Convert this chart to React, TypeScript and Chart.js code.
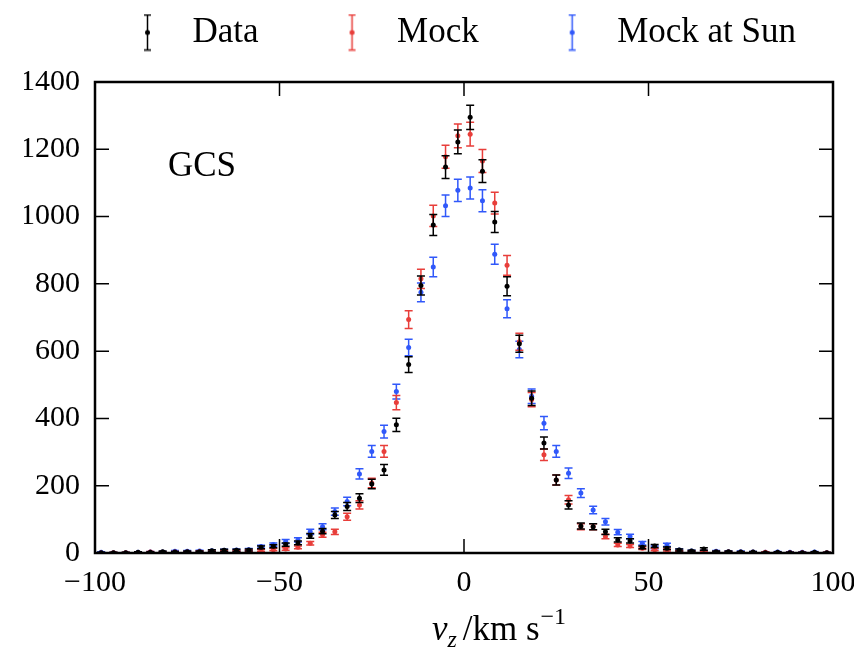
import React, { useEffect, useRef } from "react";
import { Chart, registerables } from "chart.js";

Chart.register(...registerables);

const FONT = "'Liberation Serif', 'Times New Roman', serif";

// bin centres of v_z (km/s)
const velocity = [
  -98.33, -95, -91.67, -88.33, -85, -81.67, -78.33, -75, -71.67, -68.33,
  -65, -61.67, -58.33, -55, -51.67, -48.33, -45, -41.67, -38.33, -35,
  -31.67, -28.33, -25, -21.67, -18.33, -15, -11.67, -8.33, -5, -1.67,
  1.67, 5, 8.33, 11.67, 15, 18.33, 21.67, 25, 28.33, 31.67,
  35, 38.33, 41.67, 45, 48.33, 51.67, 55, 58.33, 61.67, 65,
  68.33, 71.67, 75, 78.33, 81.67, 85, 88.33, 91.67, 95, 98.33,
];

const dataCounts = [
  1, 1, 1, 2, 2, 4, 3, 4, 4, 7,
  8, 8, 9, 17, 20, 25, 30, 51, 65, 113,
  138, 163, 205, 247, 381, 560, 795, 975, 1147, 1222,
  1295, 1135, 984, 793, 622, 460, 327, 217, 143, 80,
  78, 63, 39, 36, 17, 21, 14, 9, 6, 12,
  4, 4, 3, 3, 1, 2, 1, 1, 2, 1,
];

const mockCounts = [
  0, 1, 1, 1, 3, 2, 3, 3, 4, 4,
  5, 6, 7, 8, 10, 12, 17, 29, 54, 63,
  108, 143, 208, 302, 447, 694, 815, 1002, 1178, 1240,
  1245, 1165, 1040, 855, 628, 456, 292, 217, 158, 78,
  78, 49, 24, 21, 14, 10, 9, 5, 4, 5,
  3, 3, 2, 2, 2, 1, 1, 1, 1, 1,
];

const sunCounts = [
  2, 1, 1, 2, 3, 3, 5, 5, 6, 7,
  8, 9, 10, 19, 25, 34, 39, 63, 78, 123,
  153, 235, 302, 361, 480, 611, 775, 850, 1032, 1078,
  1085, 1047, 888, 726, 605, 466, 386, 302, 237, 178,
  128, 93, 62, 49, 29, 17, 24, 9, 6, 6,
  5, 4, 4, 3, 2, 3, 2, 2, 3, 1,
];

const seriesNames = ["Data", "Mock", "Mock at Sun"];
const seriesColors = ["#000000", "rgb(232,62,58)", "rgb(48,88,250)"];
const xTicks = [-100, -50, 0, 50, 100];
const yTicks = [0, 200, 400, 600, 800, 1000, 1200, 1400];
const panelLabel = "GCS";

function makeGlyph(color: string) {
  const c = document.createElement("canvas");
  c.width = 114;
  c.height = 38;
  const g = c.getContext("2d")!;
  const x = 86.5;
  g.strokeStyle = color;
  g.lineWidth = 1.5;
  g.beginPath();
  g.moveTo(x, 1.5);
  g.lineTo(x, 36.5);
  g.moveTo(x - 3.5, 1.5);
  g.lineTo(x + 3.5, 1.5);
  g.moveTo(x - 3.5, 36.5);
  g.lineTo(x + 3.5, 36.5);
  g.stroke();
  g.fillStyle = color;
  g.beginPath();
  g.arc(x, 19, 2.5, 0, Math.PI * 2);
  g.fill();
  return c;
}

const errorBarPlugin = {
  id: "errorBars",
  beforeDatasetDraw(chart: any, args: any) {
    const ds = chart.data.datasets[args.index];
    const xs = chart.scales.x;
    const ys = chart.scales.y;
    const ctx = chart.ctx;
    const a = chart.chartArea;
    ctx.save();
    ctx.beginPath();
    ctx.rect(a.left, a.top, a.right - a.left, a.bottom - a.top);
    ctx.clip();
    ctx.strokeStyle = ds.borderColor;
    ctx.lineWidth = 1.5;
    ds.data.forEach((p: any) => {
      const err = Math.sqrt(p.y);
      const x = xs.getPixelForValue(p.x);
      const y1 = ys.getPixelForValue(p.y - err);
      const y2 = ys.getPixelForValue(p.y + err);
      ctx.beginPath();
      ctx.moveTo(x, y1);
      ctx.lineTo(x, y2);
      ctx.moveTo(x - 4, y1);
      ctx.lineTo(x + 4, y1);
      ctx.moveTo(x - 4, y2);
      ctx.lineTo(x + 4, y2);
      ctx.stroke();
    });
    ctx.restore();
  },
};

const framePlugin = {
  id: "frame",
  afterDraw(chart: any) {
    const ctx = chart.ctx;
    const a = chart.chartArea;
    const xs = chart.scales.x;
    const ys = chart.scales.y;
    ctx.save();
    ctx.strokeStyle = "#000";
    ctx.lineWidth = 1.5;
    const tl = 14;
    ctx.beginPath();
    xTicks.forEach((v) => {
      const x = xs.getPixelForValue(v);
      ctx.moveTo(x, a.bottom);
      ctx.lineTo(x, a.bottom - tl);
      ctx.moveTo(x, a.top);
      ctx.lineTo(x, a.top + tl);
    });
    yTicks.forEach((v) => {
      const y = ys.getPixelForValue(v);
      ctx.moveTo(a.left, y);
      ctx.lineTo(a.left + tl, y);
      ctx.moveTo(a.right, y);
      ctx.lineTo(a.right - tl, y);
    });
    ctx.stroke();
    ctx.lineWidth = 2.5;
    ctx.strokeRect(a.left, a.top, a.right - a.left, a.bottom - a.top);

    // panel label
    ctx.fillStyle = "#000";
    ctx.font = `35px ${FONT}`;
    ctx.textAlign = "left";
    ctx.textBaseline = "alphabetic";
    ctx.fillText(panelLabel, a.left + 73, a.top + 94);

    // x axis title: v_z /km s^-1
    const big = `35px ${FONT}`;
    const bigIt = `italic 35px ${FONT}`;
    const smallIt = `italic 24px ${FONT}`;
    const small = `24px ${FONT}`;
    const parts = [
      { t: "v", f: bigIt, dy: 0, gap: 0 },
      { t: "z", f: smallIt, dy: 7, gap: 0 },
      { t: "/km s", f: big, dy: 0, gap: 6 },
      { t: "−1", f: small, dy: -16, gap: 1 },
    ];
    let total = 0;
    parts.forEach((p) => {
      ctx.font = p.f;
      total += ctx.measureText(p.t).width + p.gap;
    });
    let x = (a.left + a.right) / 2 + 35 - total / 2;
    const base = a.bottom + 87;
    parts.forEach((p) => {
      ctx.font = p.f;
      x += p.gap;
      ctx.fillText(p.t, x, base + p.dy);
      x += ctx.measureText(p.t).width;
    });
    ctx.restore();
  },
};

export default function App() {
  const ref = useRef<HTMLCanvasElement>(null);

  useEffect(() => {
    if (!ref.current) return;
    const glyphs = seriesColors.map((c) => makeGlyph(c));
    const series = [dataCounts, mockCounts, sunCounts];
    const chart = new Chart(ref.current, {
      type: "scatter",
      data: {
        datasets: series.map((arr, i) => ({
          label: seriesNames[i],
          data: velocity.map((v, k) => ({ x: v, y: arr[k] })),
          borderColor: seriesColors[i],
          backgroundColor: seriesColors[i],
          pointBackgroundColor: seriesColors[i],
          pointBorderWidth: 0,
          pointRadius: 2.5,
          showLine: false,
        })),
      },
      options: {
        animation: false,
        responsive: false,
        devicePixelRatio: 1,
        events: [],
        layout: { padding: { left: 16, right: 29, top: 0, bottom: 0 } },
        plugins: {
          tooltip: { enabled: false },
          legend: {
            display: true,
            position: "top",
            labels: {
              usePointStyle: true,
              pointStyleWidth: 114,
              padding: 7,
              color: "#000",
              font: { family: FONT, size: 35 },
              generateLabels: (ch: any) =>
                ch.data.datasets.map((ds: any, i: number) => ({
                  text: ds.label,
                  pointStyle: glyphs[i],
                  fillStyle: ds.borderColor,
                  strokeStyle: ds.borderColor,
                  lineWidth: 0,
                  hidden: false,
                  datasetIndex: i,
                  fontColor: "#000",
                })),
            },
          },
        },
        scales: {
          x: {
            type: "linear",
            position: "bottom",
            min: -100,
            max: 100,
            afterBuildTicks: (s: any) => {
              s.ticks = xTicks.map((v) => ({ value: v }));
            },
            ticks: {
              color: "#000",
              font: { family: FONT, size: 30 },
              padding: 12,
              maxRotation: 0,
              callback: (v: any) => (v < 0 ? "−" + Math.abs(v) : String(v)),
            },
            grid: { display: false, drawTicks: false },
            border: { display: false },
            afterFit: (s: any) => {
              s.height = 105;
              s.paddingLeft = 0;
              s.paddingRight = 0;
            },
          },
          x2: {
            type: "linear",
            axis: "x",
            position: "top",
            display: true,
            min: -100,
            max: 100,
            ticks: { display: false },
            grid: { display: false, drawTicks: false },
            border: { display: false },
            afterFit: (s: any) => {
              s.height = 22;
              s.paddingLeft = 0;
              s.paddingRight = 0;
            },
          },
          y: {
            type: "linear",
            min: 0,
            max: 1400,
            afterBuildTicks: (s: any) => {
              s.ticks = yTicks.map((v) => ({ value: v }));
            },
            ticks: {
              color: "#000",
              font: { family: FONT, size: 30 },
              padding: 15,
              callback: (v: any) => String(v),
            },
            grid: { display: false, drawTicks: false },
            border: { display: false },
            afterFit: (s: any) => {
              s.width = 71;
            },
          },
        },
      },
      plugins: [errorBarPlugin, framePlugin],
    });
    return () => chart.destroy();
  }, []);

  return (
    <div style={{ width: 854, height: 650 }}>
      <canvas ref={ref} width={854} height={650} style={{ display: "block" }} />
    </div>
  );
}
